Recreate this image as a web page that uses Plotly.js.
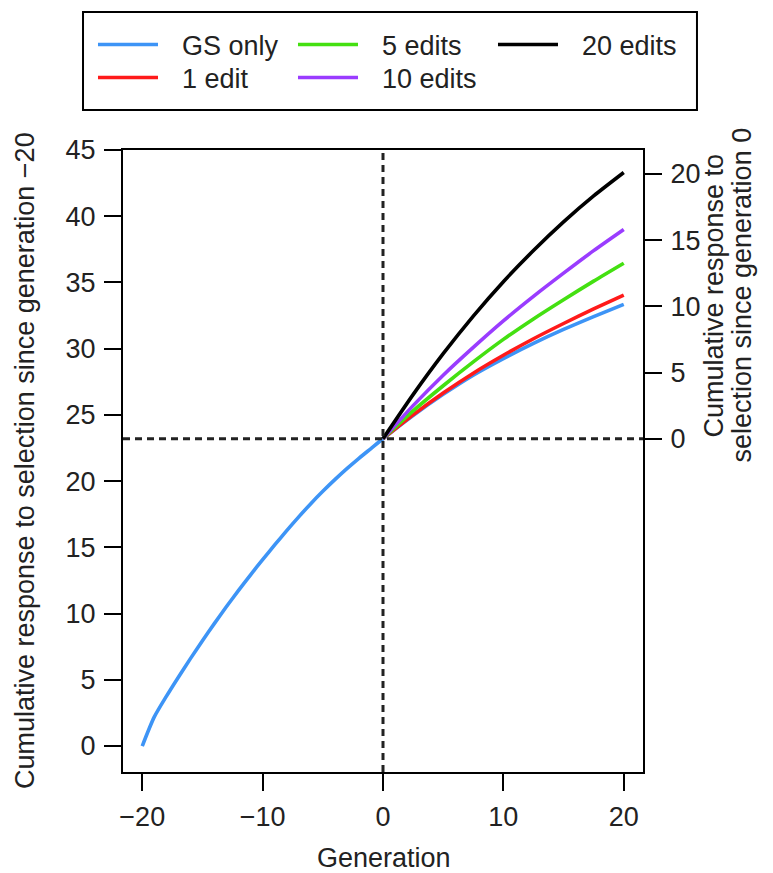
<!DOCTYPE html>
<html>
<head>
<meta charset="utf-8">
<script src="https://cdn.plot.ly/plotly-3.0.1.min.js"></script>
<style>html,body{margin:0;padding:0;background:#fff;}#chart{width:773px;height:873px;}</style>
</head>
<body>
<div id="chart"></div>
<script>
// ---- data ----
const genLeft = [-20,-19,-18,-17,-16,-15,-14,-13,-12,-11,-10,-9,-8,-7,-6,-5,-4,-3,-2,-1,0];
const gsLeft  = [0,2.2,3.75,5.2,6.6,7.95,9.26,10.53,11.75,12.93,14.07,15.18,16.26,17.3,18.3,19.23,20.11,20.94,21.72,22.46,23.2];
const genRight = [0,2.5,5,7.5,10,12.5,15,17.5,20];
const gsRight     = [23.2,24.95,26.55,28.0,29.25,30.4,31.45,32.42,33.35];
const edit1Right  = [23.2,25.0,26.65,28.15,29.5,30.75,31.9,33.0,34.05];
const edit5Right  = [23.2,25.3,27.2,29.0,30.7,32.25,33.7,35.1,36.45];
const edit10Right = [23.2,25.7,28.0,30.1,32.1,33.95,35.7,37.4,39.0];
const edit20Right = [23.2,26.53,29.62,32.46,35.06,37.41,39.57,41.53,43.3];
const seriesNames = ['GS only','1 edit','5 edits','10 edits','20 edits'];
const seriesColors = ['#3d94f6','#ff1a1a','#44e011','#9a3cff','#000000'];
const legendRow = ['legend','legend2','legend','legend2','legend'];
const baseGen = 0;
const baseValue = 23.2;
const xTicks = [-20,-10,0,10,20];
const yTicks = [0,5,10,15,20,25,30,35,40,45];
const y2Ticks = [0,5,10,15,20];
const xRange = [-21.6,21.6];
const yRange = [-1.96,45];

const gsX = genLeft.concat(genRight.slice(1));
const gsY = gsLeft.concat(gsRight.slice(1));
const ys = [gsY, edit1Right, edit5Right, edit10Right, edit20Right];
const xs = [gsX, genRight, genRight, genRight, genRight];

const FONT = 'Liberation Sans, Arial, Helvetica, sans-serif';
const FS = 27;
const TXT = '#222';
const traces = ys.map((y,i)=>({
  type:'scatter', mode:'lines', x: xs[i], y: y, name: '\u2002\u2009' + seriesNames[i],
  line:{color: seriesColors[i], width:3.6, shape:'spline', smoothing:0.7},
  legend: legendRow[i], hoverinfo:'skip'
}));
// invisible trace to activate right axis
traces.push({type:'scatter', mode:'lines', x:[xRange[0]], y:[0], yaxis:'y2', showlegend:false, hoverinfo:'skip', line:{color:'rgba(0,0,0,0)'}});

const axisCommon = {
  showgrid:false, zeroline:false, showline:true, linecolor:'#000', linewidth:2,
  ticks:'outside', ticklen:17, tickwidth:2, tickcolor:'#000',
  tickfont:{family:FONT, size:FS, color:TXT}, mirror:false
};

const legendCommon = {
  orientation:'h', x:-0.0577, xanchor:'left', yanchor:'middle',
  borderwidth:0, bgcolor:'rgba(0,0,0,0)',
  font:{family:FONT, size:FS, color:TXT},
  itemwidth:60, entrywidth:125, entrywidthmode:'pixels',
  traceorder:'normal'
};

const layout = {
  width:773, height:873,
  margin:{l:123, r:130, t:150, b:101},
  paper_bgcolor:'#fff', plot_bgcolor:'#fff',
  font:{family:FONT, color:TXT},
  xaxis: Object.assign({}, axisCommon, {range:xRange, tickvals:xTicks, ticktext:xTicks.map(v=>v<0?'\u2212'+Math.abs(v):String(v)), ticklabelstandoff:3, mirror:true}),
  yaxis: Object.assign({}, axisCommon, {range:yRange, tickvals:yTicks, ticklabelstandoff:3}),
  yaxis2: Object.assign({}, axisCommon, {overlaying:'y', side:'right', range:[yRange[0]-baseValue, yRange[1]-baseValue], tickvals:y2Ticks, ticklabelstandoff:3}),
  showlegend:true,
  legend: Object.assign({}, legendCommon, {y:1.1688}),
  legend2: Object.assign({}, legendCommon, {y:1.1158}),
  shapes:[
    {type:'rect', xref:'paper', yref:'paper', x0:-0.0769, x1:1.1038, y0:1.0643, y1:1.2219, line:{color:'#000', width:2}, fillcolor:'rgba(0,0,0,0)'},
    {type:'line', xref:'x', yref:'paper', x0:baseGen, x1:baseGen, y0:0, y1:1, line:{color:'#222', width:3, dash:'7px,5px'}},
    {type:'line', xref:'paper', yref:'y', x0:0, x1:1, y0:baseValue, y1:baseValue, line:{color:'#222', width:3, dash:'7px,5px'}}
  ],
  annotations:[
    {text:'Generation', xref:'paper', yref:'paper', x:0.502, y:0, xanchor:'center', yanchor:'middle', yshift:-86, showarrow:false, font:{family:FONT, size:FS, color:TXT}},
    {text:'Cumulative response to selection since generation \u221220', xref:'paper', yref:'paper', x:0, y:0.5, xanchor:'center', yanchor:'middle', xshift:-98, textangle:-90, showarrow:false, font:{family:FONT, size:FS, color:TXT}},
    {text:'Cumulative response to', xref:'paper', yref:'paper', x:1, y:0.766, xanchor:'center', yanchor:'middle', xshift:71, textangle:-90, showarrow:false, font:{family:FONT, size:FS, color:TXT}},
    {text:'selection since generation 0', xref:'paper', yref:'paper', x:1, y:0.766, xanchor:'center', yanchor:'middle', xshift:99, textangle:-90, showarrow:false, font:{family:FONT, size:FS, color:TXT}}
  ]
};

Plotly.newPlot('chart', traces, layout, {staticPlot:true, displayModeBar:false});
</script>
</body>
</html>
